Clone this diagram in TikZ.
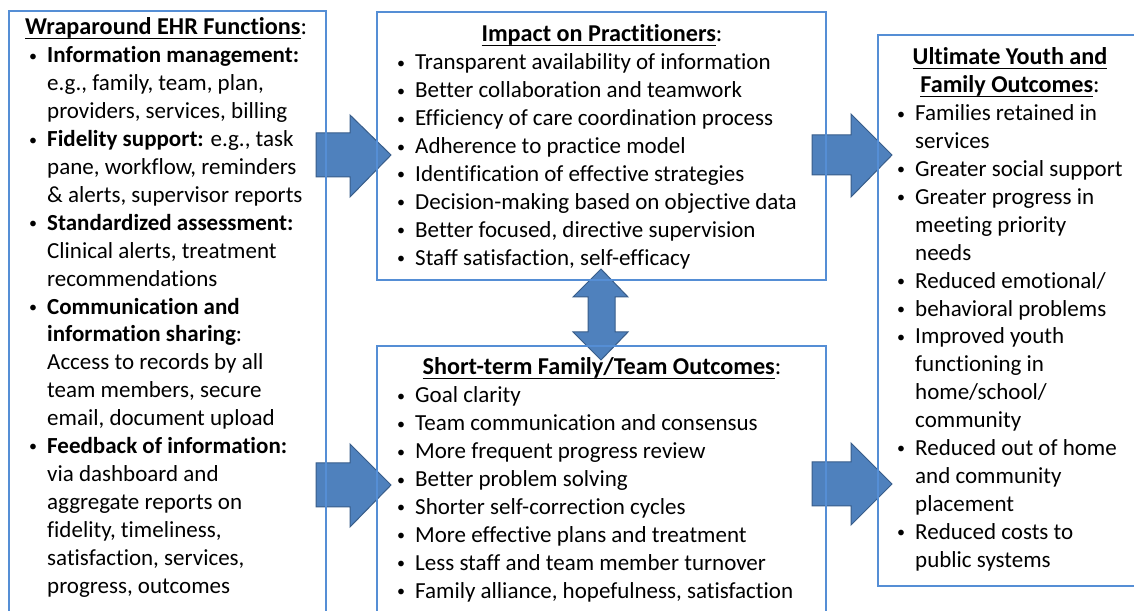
\documentclass[tikz,border=0pt]{standalone}
\usepackage{fontspec}
\setmainfont{Carlito}[Ligatures=NoCommon]
\definecolor{boxblue}{HTML}{558ED5}
\definecolor{arrowfill}{HTML}{4F81BD}
\definecolor{arrowedge}{HTML}{385D8A}
\newcommand\ulin[1]{\setbox0\hbox{#1}\rlap{\rule[-4pt]{\wd0}{1.4pt}}\box0}
\newcommand\bpt{\leavevmode\llap{\raisebox{1.6pt}{\fontsize{16}{16}\selectfont\textbullet}\hspace{10pt}}}
\newcommand\bodyfont{\fontsize{23}{27.9}\selectfont}
\begin{document}
\begin{tikzpicture}[x=1pt,y=1pt,
  box/.style={draw=boxblue, line width=1.5pt, inner sep=0pt, outer sep=0pt, anchor=north west},
  fat/.style={fill=arrowfill, draw=arrowedge, line width=1pt, line join=miter},
  ttl/.style={inner sep=0pt, font=\fontsize{24.2}{28}\selectfont\bfseries},
  body/.style={inner sep=0pt, anchor=base west}]
\useasboundingbox (0,0) rectangle (1134,610);
\clip (0,0) rectangle (1134,610);
\fill[white] (0,0) rectangle (1134,610);
% block arrows
\draw[fat] (316,477) -- (350,477) -- (350,495) -- (391,455) -- (350,413) -- (350,433) -- (316,433) -- cycle;
\draw[fat] (316,147) -- (350,147) -- (350,166) -- (391,125) -- (350,83) -- (350,103) -- (316,103) -- cycle;
\draw[fat] (812,475) -- (851,475) -- (851,496) -- (892,455) -- (851,413) -- (851,435) -- (812,435) -- cycle;
\draw[fat] (812,148) -- (851,148) -- (851,167) -- (892,126) -- (851,85) -- (851,104) -- (812,104) -- cycle;
\draw[fat] (601,341) -- (628,313) -- (615,313) -- (615,278) -- (628,278) -- (601,250) -- (573,278) -- (588,278) -- (588,313) -- (573,313) -- cycle;
% boxes
\node[box, minimum width=317pt, minimum height=640pt] (ehr) at (9,599) {};
\node[box, minimum width=449pt, minimum height=268pt] (prac) at (377,598) {};
\node[box, minimum width=449pt, minimum height=300pt] (short) at (377,264) {};
\node[box, minimum width=300pt, minimum height=551pt] (ult) at (878,575) {};
% titles
\node[ttl, anchor=base west] (ehrT) at (25,575) {\ulin{Wraparound EHR Functions}\mdseries:};
\node[ttl, anchor=base] (pracT) at (602,568) {\ulin{Impact on Practitioners}\mdseries:};
\node[ttl, anchor=base] (shortT) at (602,235) {\ulin{Short-term Family/Team Outcomes}\mdseries:};
\node[ttl, anchor=base] (ultT1) at (1010,545) {\ulin{Ultimate Youth and}};
\node[ttl, anchor=base] (ultT2) at (1010,517) {\ulin{Family Outcomes}\mdseries:};
% bodies
\node[body] (ehrB) at (47,547) {\begin{minipage}[t]{300pt}\bodyfont\parindent0pt
\bpt\textbf{Information management:}\\
e.g., family, team, plan,\\
providers, services, billing\\
\bpt\textbf{Fidelity support:} e.g., task\\
pane, workflow, reminders\\
\& alerts, supervisor reports\\
\bpt\textbf{Standardized assessment:}\\
Clinical alerts, treatment\\
recommendations\\
\bpt\textbf{Communication and}\\
\textbf{information sharing}:\\
Access to records by all\\
team members, secure\\
email, document upload\\
\bpt\textbf{Feedback of information:}\\
via dashboard and\\
aggregate reports on\\
fidelity, timeliness,\\
satisfaction, services,\\
progress, outcomes
\end{minipage}};
\node[body] (pracB) at (415,540) {\begin{minipage}[t]{420pt}\bodyfont\parindent0pt
\bpt Transparent availability of information\\
\bpt Better collaboration and teamwork\\
\bpt Efficiency of care coordination process\\
\bpt Adherence to practice model\\
\bpt Identification of effective strategies\\
\bpt Decision-making based on objective data\\
\bpt Better focused, directive supervision\\
\bpt Staff satisfaction, self-efficacy
\end{minipage}};
\node[body] (shortB) at (415,207) {\begin{minipage}[t]{420pt}\bodyfont\parindent0pt
\bpt Goal clarity\\
\bpt Team communication and consensus\\
\bpt More frequent progress review\\
\bpt Better problem solving\\
\bpt Shorter self-correction cycles\\
\bpt More effective plans and treatment\\
\bpt Less staff and team member turnover\\
\bpt Family alliance, hopefulness, satisfaction
\end{minipage}};
\node[body] (ultB) at (915,489.2) {\begin{minipage}[t]{300pt}\bodyfont\parindent0pt
\bpt Families retained in\\
services\\
\bpt Greater social support\\
\bpt Greater progress in\\
meeting priority\\
needs\\
\bpt Reduced emotional/\\
\bpt behavioral problems\\
\bpt Improved youth\\
functioning in\\
home/school/\\
community\\
\bpt Reduced out of home\\
and community\\
placement\\
\bpt Reduced costs to\\
public systems
\end{minipage}};
\end{tikzpicture}
\end{document}
